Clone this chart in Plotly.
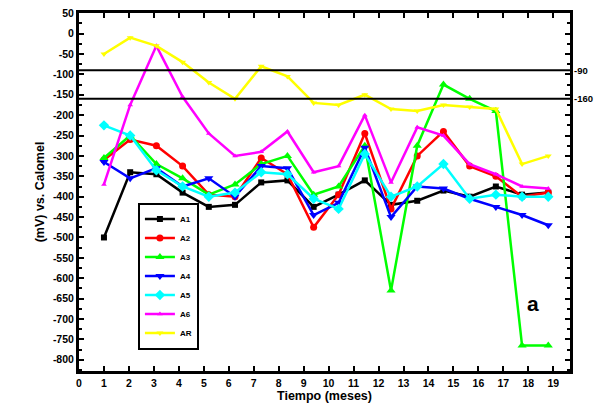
import plotly.graph_objects as go

# Time (months) of each measurement
time_months = [1.0, 2.05, 3.1, 4.15, 5.2, 6.25, 7.3, 8.35, 9.4, 10.4,
               11.45, 12.5, 13.55, 14.6, 15.65, 16.7, 17.75, 18.8]

A1 = [-500, -340, -345, -390, -425, -420, -365, -360, -425, -395,
      -360, -420, -410, -385, -400, -375, -395, -390]
A2 = [-310, -260, -275, -325, -395, -400, -305, -345, -475, -395,
      -245, -430, -300, -240, -325, -350, -400, -390]
A3 = [-305, -250, -320, -355, -395, -370, -320, -300, -395, -375,
      -275, -630, -275, -125, -160, -190, -765, -765]
A4 = [-315, -355, -330, -375, -355, -400, -325, -330, -445, -415,
      -280, -450, -375, -380, -405, -425, -445, -470]
A5 = [-225, -250, -335, -375, -400, -390, -340, -345, -405, -430,
      -295, -400, -375, -320, -405, -395, -400, -400]
A6 = [-370, -175, -30, -155, -245, -300, -290, -240, -340, -325,
      -200, -365, -230, -250, -320, -345, -375, -380]
AR = [-50, -10, -30, -70, -120, -160, -80, -105, -170, -175,
      -150, -185, -190, -175, -180, -185, -320, -300]

series_names = ["A1", "A2", "A3", "A4", "A5", "A6", "AR"]
series_values = [A1, A2, A3, A4, A5, A6, AR]
colors = ["#000000", "#ff0000", "#00ff00", "#0000ff", "#00ffff", "#ff00ff", "#ffff00"]
symbols = ["square", "circle", "triangle-up", "triangle-down", "diamond", "triangle-up", "triangle-down"]
msizes = [6, 7, 8, 8, 8, 5, 6]

x_ticks = list(range(0, 20))
y_ticks = [50, 0, -50, -100, -150, -200, -250, -300, -350, -400,
           -450, -500, -550, -600, -650, -700, -750, -800]
threshold_values = [-90, -160]
threshold_labels = ["-90", "-160"]

FONT = "Liberation Sans"

fig = go.Figure()
for name, vals, c, s, ms in zip(series_names, series_values, colors, symbols, msizes):
    fig.add_trace(go.Scatter(
        x=time_months, y=vals, name=name, mode="lines+markers",
        line=dict(color=c, width=2.5),
        marker=dict(symbol=s, size=ms, color=c),
    ))

for v, lab in zip(threshold_values, threshold_labels):
    fig.add_hline(y=v, line=dict(color="black", width=2))
    fig.add_annotation(x=1.0, xref="paper", y=v, yref="y", text=lab,
                       showarrow=False, xanchor="left", xshift=2,
                       font=dict(family=FONT, size=9.5, color="black", weight="bold"))

fig.add_annotation(x=0.94, y=0.15, xref="paper", yref="paper", text="a",
                   showarrow=False, font=dict(family=FONT, size=21, color="black", weight="bold"))

axis_font = dict(family=FONT, size=10.5, color="black", weight="bold")
title_font = dict(family=FONT, size=12.5, color="black", weight="bold")
fig.update_xaxes(
    range=[0, 19.67], tickmode="array", tickvals=x_ticks,
    ticktext=[str(v) for v in x_ticks],
    showline=True, linecolor="black", linewidth=3, mirror="ticks",
    ticks="inside", ticklen=5, tickwidth=2, tickcolor="black",
    showgrid=False, zeroline=False, tickfont=axis_font,
    title=dict(text="Tiempo (meses)", font=title_font, standoff=4),
    automargin=False, ticklabeloverflow="allow",
)
fig.update_yaxes(
    range=[-827.5, 50.5], tickmode="array", tickvals=y_ticks,
    ticktext=[str(v) for v in y_ticks],
    showline=True, linecolor="black", linewidth=3, mirror="ticks",
    ticks="inside", ticklen=5, tickwidth=2, tickcolor="black",
    minor=dict(ticks="inside", ticklen=3, tickwidth=2, tickcolor="black", dtick=25, tick0=0),
    showgrid=False, zeroline=False, tickfont=axis_font,
    title=dict(text="(mV) vs. Calomel", font=title_font, standoff=6),
    automargin=False, ticklabeloverflow="allow",
)

fig.update_layout(
    width=594, height=401,
    margin=dict(l=71, r=32, t=5, b=38, autoexpand=False),
    paper_bgcolor="white", plot_bgcolor="white",
    showlegend=True,
    legend=dict(x=0.12, y=0.06, xanchor="left", yanchor="bottom",
                bgcolor="white", bordercolor="black", borderwidth=2,
                font=dict(family=FONT, size=8, color="black", weight="bold"),
                itemwidth=30, tracegroupgap=0),
)

fig.write_html("out.html")
